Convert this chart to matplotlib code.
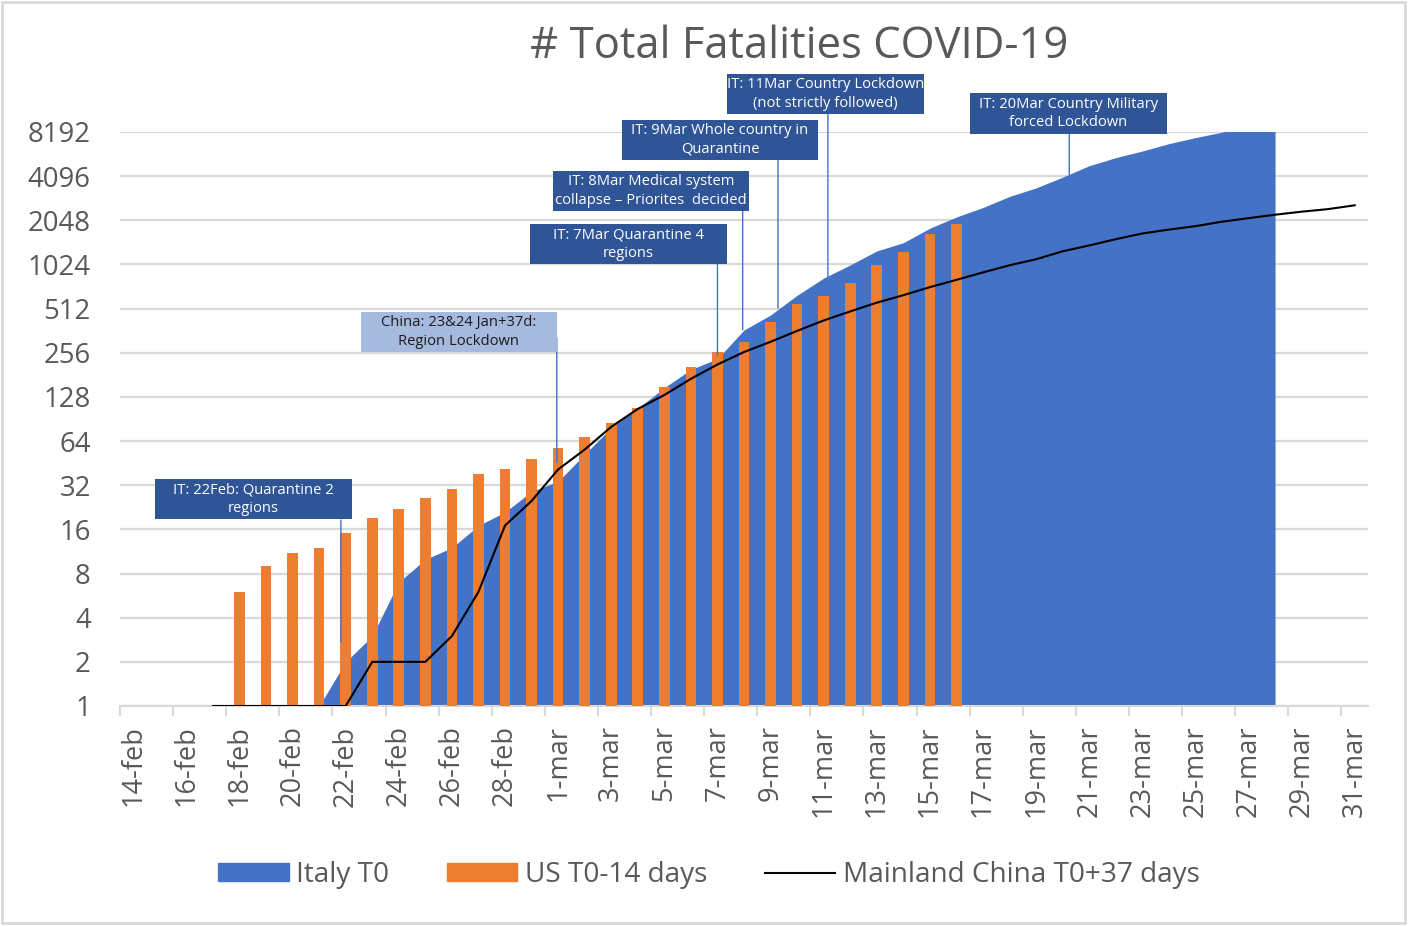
import numpy as np
import matplotlib
matplotlib.use("Agg")
import matplotlib.pyplot as plt
from matplotlib.patches import Rectangle, Patch
from matplotlib.lines import Line2D
from matplotlib.transforms import blended_transform_factory

plt.rcParams["font.family"] = ["Open Sans", "DejaVu Sans"]

W, H = 1408, 926
GREY = "#595959"
GRID = "#D9D9D9"
BLUE = "#4472C4"
ORANGE = "#ED7D31"
BOX_DARK = "#2F5597"
BOX_LIGHT = "#A6B9DF"

# category axis: one slot per day
DAYS = [f"{d}-feb" for d in range(14, 30)] + [f"{d}-mar" for d in range(1, 32)]

# Italy T0, from 21-feb
ITALY_START = "21-feb"
ITALY = [1, 2, 3, 7, 10, 12, 17, 21, 29,
         34, 52, 79, 107, 148, 197, 233, 366, 463, 631, 827, 1016, 1266, 1441,
         1809, 2158, 2503, 2978, 3405, 4032, 4825, 5476, 6077, 6820, 7503,
         8165, 9134, 10023]

# US T0-14 days, from 18-feb
US_START = "18-feb"
US = [6, 9, 11, 12, 15, 19, 22, 26, 30, 38, 41, 48,
      57, 68, 85, 108, 150, 205, 258, 301, 414, 552, 620, 770, 1015, 1250,
      1640, 1930]

# Mainland China T0+37 days, from 17-feb
CHINA_START = "17-feb"
CHINA = [1, 1, 1, 1, 1, 1, 2, 2, 2, 3, 6,
         17, 25, 41, 56, 80, 106, 132, 170, 213, 259, 304, 361, 425, 490, 562,
         632, 717, 804, 904, 1011, 1111, 1259, 1380, 1523, 1665, 1770, 1868,
         2004, 2118, 2236, 2345, 2442, 2592]

YTICKS = [2 ** k for k in range(14)]

# text boxes: (left px, top px, width px, height px, text, dark?, leader x day, leader y value)
NOTES = [
    (155, 479, 197, 40, "IT: 22Feb: Quarantine 2\nregions", True, 7.82, 2.73),
    (361, 312, 196, 40, "China: 23&24 Jan+37d:\nRegion Lockdown", False, 15.95, 46),
    (530, 224, 197, 40, "IT: 7Mar Quarantine 4\nregions", True, 22.0, 247),
    (553, 171, 196, 40, "IT: 8Mar Medical system\ncollapse \u2013 Priorites  decided", True, 22.95, 367),
    (622, 120, 196, 40, "IT: 9Mar Whole country in\nQuarantine", True, 24.28, 517),
    (727, 74, 197, 40, "IT: 11Mar Country Lockdown\n(not strictly followed)", True, 26.16, 843),
    (970, 93, 197, 41, "IT: 20Mar Country Military\nforced Lockdown", True, 35.25, 4170),
]
LEADER_TOP = [520, 338, 264, 211, 160, 114, 134]


def main():
    fig = plt.figure(figsize=(W / 100, H / 100), dpi=100)
    ax = fig.add_axes([120 / W, 220 / H, 1248 / W, 574 / H])

    xi = np.arange(len(ITALY)) + DAYS.index(ITALY_START)
    xu = np.arange(len(US)) + DAYS.index(US_START)
    xc = np.arange(len(CHINA)) + DAYS.index(CHINA_START)

    ax.fill_between(xi, 1, ITALY, color=BLUE, lw=0, zorder=2)
    ax.bar(xu, np.array(US) - 1, 0.4, bottom=1, color=ORANGE, zorder=3)
    ax.plot(xc, CHINA, color="black", lw=1.5, zorder=4)

    ax.set_yscale("log", base=2)
    ax.set_ylim(1, 8192)
    ax.set_xlim(-0.5, len(DAYS) - 0.5)
    ax.set_yticks(YTICKS)
    ax.set_yticklabels([str(v) for v in YTICKS])
    ax.yaxis.set_minor_locator(matplotlib.ticker.NullLocator())
    ax.tick_params(axis="y", length=0, pad=21, labelsize=19.8, labelcolor=GREY)

    ax.set_xticks(np.arange(0, len(DAYS), 2))
    ax.set_xticklabels(DAYS[::2], rotation=90)
    ax.set_xticks(np.arange(-0.5, len(DAYS) - 1, 2), minor=True)
    ax.tick_params(axis="x", which="major", length=0, pad=14,
                   labelsize=19.5, labelcolor=GREY)
    ax.tick_params(axis="x", which="minor", length=7, width=1.5, color=GRID)

    ax.grid(axis="y", color=GRID, lw=1.6)
    ax.set_axisbelow(True)
    for s in ("top", "right", "left"):
        ax.spines[s].set_visible(False)
    ax.spines["bottom"].set_color(GRID)
    ax.spines["bottom"].set_linewidth(1.5)

    fig.text(799 / W, 1 - 47 / H, "# Total Fatalities COVID-19", ha="center",
             va="center", fontsize=31.4, color=GREY)

    tr = blended_transform_factory(ax.transData, fig.transFigure)
    for (l, t, w, h, txt, dark, lx, ly), top in zip(NOTES, LEADER_TOP):
        ax.annotate("", xy=(lx, ly), xycoords="data",
                    xytext=(lx, 1 - top / H), textcoords=tr,
                    arrowprops=dict(arrowstyle="-", color=BLUE, lw=1,
                                    shrinkA=0, shrinkB=0), zorder=5)
        fig.add_artist(Rectangle((l / W, 1 - (t + h) / H), w / W, h / H,
                                 transform=fig.transFigure, lw=0,
                                 facecolor=BOX_DARK if dark else BOX_LIGHT,
                                 zorder=6))
        fig.text((l + w / 2) / W, 1 - (t + h / 2) / H, txt, ha="center",
                 va="center", fontsize=10.6, linespacing=1.35,
                 color="white" if dark else "#1A1A1A", zorder=7)

    handles = [Patch(color=BLUE), Patch(color=ORANGE),
               Line2D([], [], color="black", lw=1.5)]
    labels = ["Italy T0", "US T0-14 days", "Mainland China T0+37 days"]
    fig.legend(handles, labels, loc="center", ncol=3, frameon=False,
               bbox_to_anchor=(709 / W, 1 - 875 / H), fontsize=20.2,
               handlelength=2.5, handleheight=0.6, handletextpad=0.28,
               columnspacing=2.05, labelcolor=GREY)

    fig.add_artist(Rectangle((2 / W, 3 / H), 1403 / W, 921 / H,
                             transform=fig.transFigure, fill=False,
                             edgecolor=GRID, lw=2))
    fig.savefig("out.png", dpi=100)
    plt.close(fig)


if __name__ == "__main__":
    main()
